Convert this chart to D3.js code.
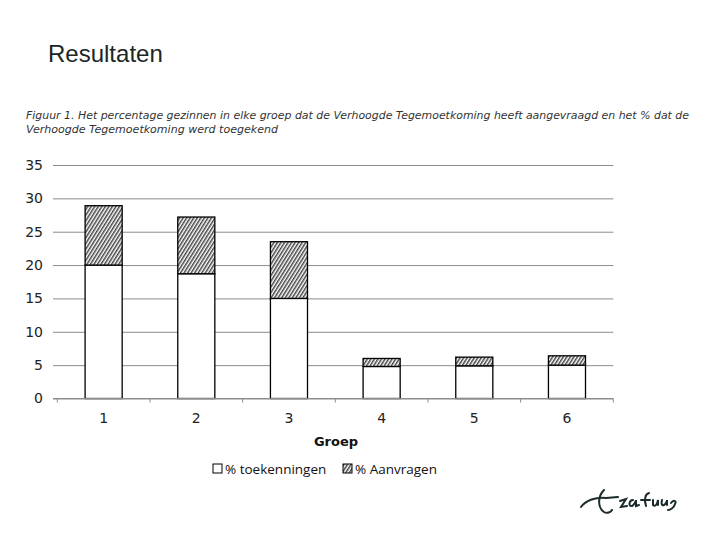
<!DOCTYPE html>
<html>
<head>
<meta charset="utf-8">
<script src="https://cdn.jsdelivr.net/npm/d3@7"></script>
<style>
  body { margin: 0; background: #fff; }
  svg { display: block; }
</style>
</head>
<body>
<svg id="chart" width="720" height="540"></svg>
<script>
const groups = ['1', '2', '3', '4', '5', '6'];
const toekenningen = [20.0, 18.7, 15.0, 4.8, 4.9, 5.0];
const aanvragen = [28.9, 27.2, 23.5, 6.0, 6.2, 6.4];
const yTicks = [0, 5, 10, 15, 20, 25, 30, 35];
const captionLines = [
  'Figuur  1. Het percentage gezinnen in elke groep dat de Verhoogde Tegemoetkoming heeft aangevraagd en het % dat de',
  'Verhoogde Tegemoetkoming werd toegekend'
];

const svg = d3.select('#chart');

// hatch pattern for the "% Aanvragen" part
const defs = svg.append('defs');
const pat = defs.append('pattern')
  .attr('id', 'hatch')
  .attr('patternUnits', 'userSpaceOnUse')
  .attr('width', 3).attr('height', 3)
  .attr('patternTransform', 'rotate(32)');
pat.append('rect').attr('width', 3).attr('height', 3).attr('fill', '#fff');
pat.append('rect').attr('width', 1.5).attr('height', 3).attr('fill', '#444');

// title
svg.append('text')
  .attr('x', 48).attr('y', 62)
  .attr('font-family', 'Liberation Sans, Arial, sans-serif')
  .attr('font-size', 24)
  .attr('fill', '#1b2626')
  .text('Resultaten');

// caption
svg.selectAll('text.caption')
  .data(captionLines)
  .join('text')
  .attr('class', 'caption')
  .attr('x', 26)
  .attr('y', (d, i) => 119 + i * 14)
  .attr('font-family', 'DejaVu Sans, sans-serif')
  .attr('font-style', 'italic')
  .attr('font-size', 11)
  .attr('fill', '#333')
  .attr('textLength', (d, i) => i === 0 ? 663 : 252)
  .attr('lengthAdjust', 'spacingAndGlyphs')
  .text(d => d);

const x = d3.scaleBand()
  .domain(groups)
  .range([57.3, 613.3])
  .paddingInner(0.6)
  .paddingOuter(0.3);

const y = d3.scaleLinear()
  .domain([0, 35])
  .range([398.5, 165]);

// gridlines + y labels
const yAxis = d3.axisLeft(y)
  .tickValues(yTicks)
  .tickSize(0)
  .tickFormat(d3.format('d'));
const gy = svg.append('g')
  .attr('transform', 'translate(53,0)')
  .call(yAxis);
gy.select('.domain').remove();
gy.selectAll('.tick line').attr('stroke', '#8c8c8c').attr('x1', 0).attr('x2', 613.3 - 53);
gy.selectAll('.tick text')
  .attr('font-family', 'DejaVu Sans, Verdana, sans-serif')
  .attr('font-size', 14)
  .attr('fill', '#222')
  .attr('x', -10);

// bars
const bars = svg.append('g');
bars.selectAll('rect.toek')
  .data(groups)
  .join('rect')
  .attr('class', 'toek')
  .attr('x', d => x(d))
  .attr('width', x.bandwidth())
  .attr('y', (d, i) => y(toekenningen[i]))
  .attr('height', (d, i) => y(0) - y(toekenningen[i]))
  .attr('fill', '#fff')
  .attr('stroke', '#000')
  .attr('stroke-width', 1.3);
bars.selectAll('rect.aan')
  .data(groups)
  .join('rect')
  .attr('class', 'aan')
  .attr('x', d => x(d))
  .attr('width', x.bandwidth())
  .attr('y', (d, i) => y(aanvragen[i]))
  .attr('height', (d, i) => y(toekenningen[i]) - y(aanvragen[i]))
  .attr('fill', 'url(#hatch)')
  .attr('stroke', '#000')
  .attr('stroke-width', 1.3);

// x axis
const step = x.step();
const boundaries = d3.range(groups.length + 1).map(i => 57.3 + i * step);
const gx = svg.append('g');
gx.append('line')
  .attr('x1', 53).attr('x2', 613.3)
  .attr('y1', y(0)).attr('y2', y(0))
  .attr('stroke', '#8c8c8c');
gx.selectAll('line.tick')
  .data(boundaries)
  .join('line')
  .attr('class', 'tick')
  .attr('x1', d => d).attr('x2', d => d)
  .attr('y1', y(0)).attr('y2', y(0) + 4)
  .attr('stroke', '#8c8c8c');
gx.selectAll('text')
  .data(groups)
  .join('text')
  .attr('x', d => x(d) + x.bandwidth() / 2)
  .attr('y', 423)
  .attr('text-anchor', 'middle')
  .attr('font-family', 'DejaVu Sans, Verdana, sans-serif')
  .attr('font-size', 14)
  .attr('fill', '#222')
  .text(d => d);

svg.append('text')
  .attr('x', 336).attr('y', 446)
  .attr('text-anchor', 'middle')
  .attr('font-family', 'DejaVu Sans, Verdana, sans-serif')
  .attr('font-weight', 'bold')
  .attr('font-size', 13)
  .attr('fill', '#111')
  .text('Groep');

// legend
const legend = svg.append('g').attr('font-family', 'Open Sans, Liberation Sans, sans-serif')
  .attr('font-size', 13.5).attr('fill', '#111');
legend.append('rect')
  .attr('x', 213).attr('y', 464).attr('width', 9).attr('height', 9)
  .attr('fill', '#fff').attr('stroke', '#000');
legend.append('text').attr('x', 225).attr('y', 474).text('% toekenningen');
legend.append('rect')
  .attr('x', 343).attr('y', 464).attr('width', 9).attr('height', 9)
  .attr('fill', 'url(#hatch)').attr('stroke', '#000');
legend.append('text').attr('x', 355).attr('y', 474).text('% Aanvragen');

// signature logo, rough
const logo = svg.append('g')
  .attr('fill', 'none')
  .attr('stroke', '#1b2b2b')
  .attr('stroke-width', 2)
  .attr('stroke-linecap', 'round');
logo.append('path').attr('d', 'M581,507 C586,500 596,497 606,498 L618,497');
logo.append('path').attr('d', 'M604,490 C598,496 597,507 604,512 C607,514 611,512 612,510');
logo.append('path').attr('d', 'M620,501 L626,499 L621,507 L627,506');
logo.append('path').attr('d', 'M633,500 C629,500 628,507 632,506 C634,505 636,501 636,500 L636,506 L639,505');
logo.append('path').attr('d', 'M646,506 C644,500 645,494 649,493 M641,500 L650,500');
logo.append('path').attr('d', 'M653,500 L653,505 C655,507 657,505 658,500 L658,505 M662,500 C661,504 662,506 664,505 C666,504 667,501 667,500 L667,505 M671,503 C673,500 677,500 675,504 C674,508 670,510 668,510');
</script>
</body>
</html>
